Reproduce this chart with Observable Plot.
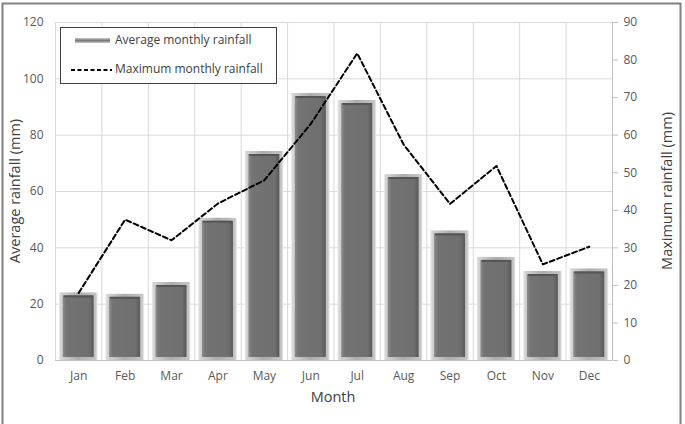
<!DOCTYPE html>
<html>
<head>
<meta charset="utf-8">
<script src="https://cdn.jsdelivr.net/npm/d3@7"></script>
<script src="https://cdn.jsdelivr.net/npm/@observablehq/plot@0.6"></script>
<style>
  html, body { margin: 0; padding: 0; background: #fff; }
  #chart { width: 685px; height: 424px; }
</style>
</head>
<body>
<div id="chart"></div>
<script>
const months = ["Jan","Feb","Mar","Apr","May","Jun","Jul","Aug","Sep","Oct","Nov","Dec"];
const avgRain = [24, 23.5, 27.7, 50.5, 74.2, 94.8, 92.3, 66, 46, 36.6, 31.6, 32.5];
const maxRain = [18, 37.5, 32, 41.8, 48, 63, 81.8, 57.5, 41.7, 51.8, 25.6, 30.3];
const leftTicks = [0, 20, 40, 60, 80, 100, 120];
const rightTicks = [0, 10, 20, 30, 40, 50, 60, 70, 80, 90];
const leftMax = 120, rightMax = 90;
const toLeft = v => v * leftMax / rightMax;

const data = months.map((m, i) => ({month: m, i: i + 1, avg: avgRain[i], max: maxRain[i]}));
const bounds = d3.range(0.5, months.length + 1, 1);

const font = "'Open Sans', 'DejaVu Sans', sans-serif";
const half = 0.42;

const plot = Plot.plot({
  width: 685,
  height: 424,
  marginLeft: 55,
  marginRight: 73,
  marginTop: 22,
  marginBottom: 64,
  style: {fontFamily: font, fontSize: "12px", color: "#595959", background: "#fff"},
  x: {type: "linear", domain: [0.5, months.length + 0.5], axis: null},
  y: {domain: [0, leftMax], axis: null},
  marks: [
    Plot.ruleY(leftTicks, {stroke: "#d9d9d9", strokeWidth: 1}),
    Plot.ruleX(bounds, {stroke: "#d9d9d9", strokeWidth: 1}),
    // outer bevel of bars
    Plot.rectY(data, {x1: d => d.i - half, x2: d => d.i + half, y1: 0, y2: "avg", fill: "url(#barOuter)"}),
    // inner face
    Plot.rectY(data, {x1: d => d.i - half, x2: d => d.i + half, y1: 0, y2: "avg", fill: "url(#barInner)", insetLeft: 4, insetRight: 4, insetTop: 3, insetBottom: 3}),
    // top bevel
    Plot.ruleY(data, {x1: d => d.i - half, x2: d => d.i + half, y: "avg", stroke: "#555", strokeWidth: 2, dy: 3.5, insetLeft: 5, insetRight: 5}),
    // bottom axis line
    Plot.ruleY([0], {stroke: "#bfbfbf", strokeWidth: 1.2}),
    // right axis line
    Plot.ruleX([months.length + 0.5], {stroke: "#bfbfbf", strokeWidth: 1}),
    // max line
    Plot.line(data, {x: "i", y: d => toLeft(d.max), stroke: "#000", strokeWidth: 2, strokeDasharray: "5,3"}),
    // axes
    Plot.axisY(leftTicks, {anchor: "left", tickSize: 0, tickPadding: 12, label: null, fill: "#595959"}),
    Plot.axisY(rightTicks.map(toLeft), {anchor: "right", tickSize: 5, tickPadding: 6, stroke: "#bfbfbf", tickFormat: (d) => String(Math.round(d * rightMax / leftMax)), label: null, fill: "#595959"}),
    Plot.axisX(data.map(d => d.i), {anchor: "bottom", tickSize: 0, tickPadding: 11, tickFormat: d => months[d - 1], label: null, fill: "#595959"})
  ]
});

const svg = d3.select(plot);
const defs = svg.insert("defs", ":first-child");
const go = defs.append("linearGradient").attr("id", "barOuter").attr("x1", "0").attr("x2", "1").attr("y1", "0").attr("y2", "0");
[[0, "#f6f6f6"], [0.05, "#d4d4d4"], [0.5, "#acacac"], [0.95, "#c4c4c4"], [1, "#f2f2f2"]].forEach(([o, c]) => go.append("stop").attr("offset", o).attr("stop-color", c));
const gi = defs.append("linearGradient").attr("id", "barInner").attr("x1", "0").attr("x2", "1").attr("y1", "0").attr("y2", "0");
[[0, "#8c8c8c"], [0.12, "#737373"], [0.85, "#6f6f6f"], [1, "#585858"]].forEach(([o, c]) => gi.append("stop").attr("offset", o).attr("stop-color", c));
const gl = defs.append("linearGradient").attr("id", "legBar").attr("x1", "0").attr("x2", "0").attr("y1", "0").attr("y2", "1");
[[0, "#c8c8c8"], [0.5, "#7a7a7a"], [1, "#c8c8c8"]].forEach(([o, c]) => gl.append("stop").attr("offset", o).attr("stop-color", c));

// outer frame
svg.append("rect").attr("x", 2.5).attr("y", 3.5).attr("width", 678).attr("height", 430)
  .attr("fill", "none").attr("stroke", "#808080").attr("stroke-width", 2);

const addText = (sel) => sel.attr("font-family", font).attr("fill", "#404040");
// axis titles
addText(svg.append("text").attr("transform", "translate(16,191) rotate(-90)").attr("text-anchor", "middle")
  .attr("dominant-baseline", "middle").attr("font-size", 14.5)).text("Average rainfall (mm)");
addText(svg.append("text").attr("transform", "translate(668,191) rotate(-90)").attr("text-anchor", "middle")
  .attr("dominant-baseline", "middle").attr("font-size", 14.5)).text("Maximum rainfall (mm)");
addText(svg.append("text").attr("x", 333).attr("y", 398).attr("text-anchor", "middle")
  .attr("dominant-baseline", "middle").attr("font-size", 14.5)).text("Month");

// legend
const lg = svg.append("g");
lg.append("rect").attr("x", 60.5).attr("y", 27.5).attr("width", 216).attr("height", 56)
  .attr("fill", "#fff").attr("stroke", "#404040").attr("stroke-width", 1);
lg.append("rect").attr("x", 75).attr("y", 38).attr("width", 35).attr("height", 5).attr("fill", "url(#legBar)");
addText(lg.append("text").attr("x", 115).attr("y", 41).attr("text-anchor", "start").attr("dominant-baseline", "middle")
  .attr("font-size", 12)).text("Average monthly rainfall");
lg.append("line").attr("x1", 71).attr("x2", 112).attr("y1", 70).attr("y2", 70)
  .attr("stroke", "#000").attr("stroke-width", 2).attr("stroke-dasharray", "4,2.5");
addText(lg.append("text").attr("x", 115).attr("y", 70).attr("text-anchor", "start").attr("dominant-baseline", "middle")
  .attr("font-size", 12)).text("Maximum monthly rainfall");

document.getElementById("chart").appendChild(plot);
</script>
</body>
</html>
